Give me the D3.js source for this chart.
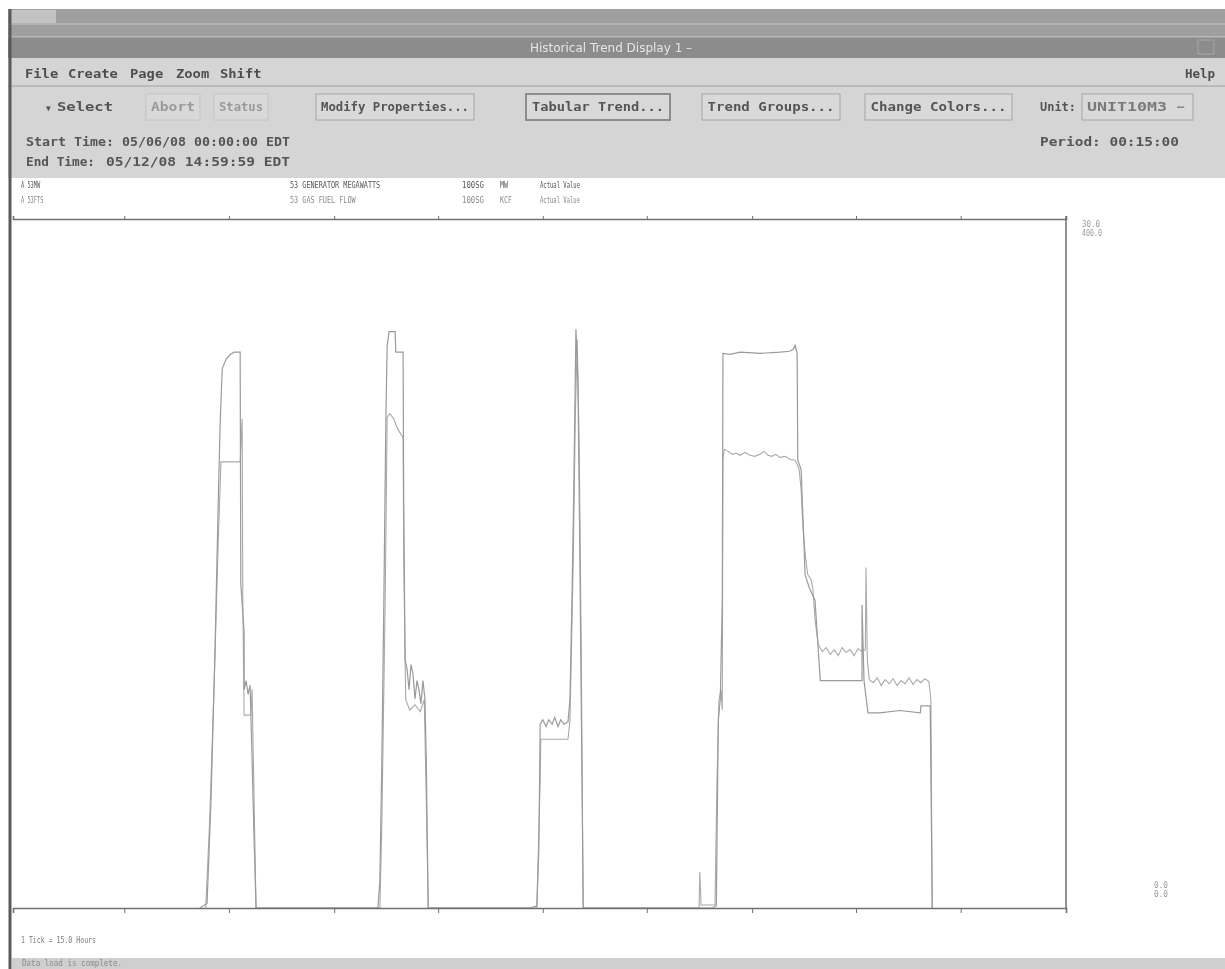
<!DOCTYPE html>
<html><head><meta charset="utf-8">
<script src="https://cdn.jsdelivr.net/npm/d3@7"></script>
<style>html,body{margin:0;padding:0;background:#fff;overflow:hidden} #c{will-change:transform}</style>
</head><body>
<svg id="c" width="1225" height="969"></svg>
<script>
// ---------------- DATA (hours since start time, engineering units) ----------------
const mwHours = [
  28.2, 29.3, 29.9, 30.5, 31.0, 31.3, 31.6, 32.2, 32.8, 33.4, 34.3, 34.4, 34.9, 34.9, 35.2, 35.5, 35.8, 36.1, 36.4, 36.7,
  55.1, 55.4, 55.7, 56.0, 56.3, 56.5, 56.8, 57.7, 57.8, 58.9, 59.0, 59.2, 59.5, 59.8, 60.1, 60.4, 60.7, 61.0, 61.3, 61.6, 61.9, 62.2, 62.4, 62.7,
  78.1, 79.1, 79.4, 79.6, 80.0, 80.5, 80.9, 81.4, 81.8, 82.3, 82.7, 83.2, 83.8, 84.1, 84.4, 84.7, 85.0, 85.3, 85.6, 85.8, 86.1,
  105.6, 106.2, 106.5, 106.8, 107.1, 107.2, 108.3, 109.8, 112.8, 115.8, 117.3, 117.8, 118.1, 118.4, 118.5, 119.0, 119.3, 119.6, 120.3, 121.1, 121.6, 121.9, 124.9, 128.2, 128.2, 128.5, 129.1, 130.9, 133.9, 137.0, 137.1, 138.5, 138.8
];
const mwValues = [
  0, 0.2, 4.7, 11.2, 17.8, 21.3, 23.5, 23.9, 24.1, 24.2, 24.2, 14.1, 12.0, 9.5, 9.9, 9.3, 9.7, 6.5, 3.0, 0,
  0, 1.2, 6.5, 13.4, 21.3, 24.5, 25.1, 25.1, 24.2, 24.2, 17.8, 10.8, 10.4, 9.5, 10.6, 10.2, 9.1, 9.9, 9.5, 8.9, 9.9, 9.1, 6.5, 0,
  0, 0.1, 2.5, 8.0, 8.2, 7.9, 8.2, 8.0, 8.3, 7.9, 8.2, 8.0, 8.1, 9.1, 13.4, 18.7, 25.2, 23.0, 15.2, 9.1, 0,
  0, 0.1, 8.2, 9.1, 13.4, 24.15, 24.11, 24.2, 24.15, 24.2, 24.24, 24.33, 24.5, 24.15, 19.5, 19.1, 16.9, 14.5, 13.9, 13.4, 11.2, 9.9, 9.9, 9.9, 13.2, 9.9, 8.5, 8.5, 8.6, 8.5, 8.8, 8.8, 0
];
const gasHours = [
  29.1, 29.7, 30.4, 31.0, 31.4, 34.3, 34.6, 34.7, 34.9, 35.9, 36.1, 36.4, 36.7,
  55.4, 55.7, 56.2, 56.5, 56.9, 57.5, 58.1, 58.9, 59.0, 59.3, 59.9, 60.7, 61.5, 62.1, 62.4, 62.7,
  79.1, 79.6, 79.7, 83.8, 84.1, 84.6, 84.9, 85.2, 85.5, 85.8, 86.1,
  103.6, 103.7, 103.9, 106.0, 106.3, 106.6, 106.9, 107.1, 107.2, 107.4, 108.0, 108.6, 109.2, 109.8, 110.5, 111.3, 112.0, 112.8,
  113.4, 114.0, 114.6, 115.2, 115.8, 116.6, 117.3, 118.1, 118.4, 118.7, 119.0, 119.3, 119.7, 120.0, 120.5, 120.8, 121.1, 121.6,
  122.2, 122.8, 123.4, 124.0, 124.6, 125.2, 125.8, 126.4, 127.0, 127.6, 128.2, 128.7, 128.8, 129.0, 129.3, 129.9, 130.5, 131.1,
  131.7, 132.3, 132.9, 133.5, 134.1, 134.7, 135.3, 135.9, 136.5, 137.1, 137.7, 138.3, 138.6, 138.8
];
const gasValues = [
  0, 51, 133, 214, 259, 259, 284, 179, 112, 112, 127, 63, 0,
  0, 51, 179, 285, 287, 284, 278, 273, 202, 121, 115, 118, 114, 121, 63, 0,
  0, 74, 98, 98, 109, 202, 284, 330, 266, 150, 0,
  0, 20.9, 1.7, 1.7, 74.4, 120.9, 126.7, 115.1, 260.5, 266.3, 265.1, 263.4, 264.0, 262.8, 264.5, 262.8, 262.2, 263.4,
  265.1, 262.8, 262.2, 263.4, 261.6, 262.2, 260.5, 259.9, 257.6, 254.7, 243.0, 219.8, 202.3, 193.6, 190.7, 184.9, 167.4, 152.9,
  148.8, 151.2, 147.1, 150.0, 146.5, 151.2, 148.3, 150.0, 146.5, 150.6, 148.8, 150.0, 197.7, 144.2, 132.6, 130.8, 133.7, 129.1,
  132.6, 130.2, 133.1, 129.1, 132.0, 130.2, 133.7, 129.7, 132.6, 130.8, 133.1, 131.4, 120.9, 0
];
const timeDomain = [0, 159];          // 05/06/08 00:00 .. 05/12/08 14:59:59
const mwDomain = [0, 30];
const gasDomain = [0, 400];
const tickHours = [16.8, 32.6, 48.5, 64.2, 80.0, 95.7, 111.6, 127.3, 143.1];
const topScaleLabels = ["30.0", "400.0"];
const bottomScaleLabels = ["0.0", "0.0"];
const legendTags = ["A 53MW", "A 53FTS"];
const legendDescs = ["53 GENERATOR MEGAWATTS", "53 GAS FUEL FLOW"];
const legendGroups = ["100SG", "100SG"];
const legendUnits = ["MW", "KCF"];
const legendModes = ["Actual Value", "Actual Value"];
const menuItems = ["File", "Create", "Page", "Zoom", "Shift"];

// ---------------- DRAW ----------------
const svg = d3.select("#c");
const MONO = "'DejaVu Sans Mono', 'Liberation Mono', monospace";

function txt(x, y, s, o = {}) {
  const t = svg.append("text").attr("x", x).attr("y", y).text(s)
    .attr("font-family", o.family || MONO)
    .attr("font-size", o.size || 12)
    .attr("font-weight", o.weight || "bold")
    .attr("fill", o.fill || "#555");
  if (o.len) t.attr("textLength", o.len).attr("lengthAdjust", "spacingAndGlyphs");
  if (o.anchor) t.attr("text-anchor", o.anchor);
  return t;
}

// window chrome
svg.append("rect").attr("x", 0).attr("y", 0).attr("width", 1225).attr("height", 969).attr("fill", "#ffffff");
svg.append("rect").attr("x", 8).attr("y", 9).attr("width", 1217).attr("height", 28).attr("fill", "#9f9f9f");
svg.append("rect").attr("x", 10).attr("y", 10).attr("width", 46).attr("height", 13).attr("fill", "#c3c3c3");
svg.append("rect").attr("x", 8).attr("y", 23).attr("width", 1217).attr("height", 2).attr("fill", "#b4b4b4");
svg.append("rect").attr("x", 8).attr("y", 36).attr("width", 1217).attr("height", 22).attr("fill", "#8c8c8c");
svg.append("rect").attr("x", 8).attr("y", 36).attr("width", 1217).attr("height", 1.5).attr("fill", "#b8b8b8");
txt(611, 52, "Historical Trend Display 1 \u2013", {family: "'DejaVu Sans', sans-serif", weight: "normal", size: 12, fill: "#e6e6e6", anchor: "middle"});
svg.append("rect").attr("x", 1198).attr("y", 40).attr("width", 16).attr("height", 14).attr("fill", "none").attr("stroke", "#a8a8a8");

// grey toolbar panel
svg.append("rect").attr("x", 8).attr("y", 58).attr("width", 1217).attr("height", 120).attr("fill", "#d5d5d5");
svg.append("line").attr("x1", 8).attr("x2", 1225).attr("y1", 86).attr("y2", 86).attr("stroke", "#b2b2b2").attr("stroke-width", 1.5);

// menu
const menuX = [25, 68, 130, 176, 220];
menuItems.forEach((m, i) => txt(menuX[i], 78, m, {size: 12.5, len: m.length * 8.3, fill: "#4e4e4e"}));
txt(1215, 78, "Help", {size: 12.5, anchor: "end", fill: "#4e4e4e"});

// toolbar buttons
function button(x, w, label, o = {}) {
  svg.append("rect").attr("x", x).attr("y", 94).attr("width", w).attr("height", 26)
    .attr("fill", "#d9d9d9").attr("stroke", o.stroke || "#a5a5a5").attr("stroke-width", o.sw || 1);
  txt(x + w / 2, 111, label, {size: 12, anchor: "middle", fill: o.fill || "#555", len: o.len});
}
txt(46, 111, "\u25BC", {size: 8, fill: "#555"});
txt(57, 111, "Select", {size: 12.5, fill: "#555", len: 56});
button(146, 54, "Abort", {fill: "#9a9a9a", stroke: "#c4c4c4", len: 44});
button(214, 54, "Status", {fill: "#9a9a9a", stroke: "#c4c4c4", len: 44});
button(316, 158, "Modify Properties...", {len: 148});
button(526, 144, "Tabular Trend...", {stroke: "#7a7a7a", sw: 1.6, len: 132});
button(702, 138, "Trend Groups...", {len: 127});
button(865, 147, "Change Colors...", {len: 136});
txt(1040, 111, "Unit:", {size: 12, len: 36, fill: "#555"});
svg.append("rect").attr("x", 1082).attr("y", 94).attr("width", 111).attr("height", 26)
  .attr("fill", "#d9d9d9").attr("stroke", "#a5a5a5");
txt(1087, 111, "UNIT10M3", {size: 12, len: 80, fill: "#7a7a7a"});
txt(1177, 111, "\u2013", {size: 12, fill: "#888"});

// times
txt(26, 146, "Start Time: 05/06/08 00:00:00 EDT", {size: 12.5, len: 264, fill: "#555"});
txt(26, 166, "End Time:", {size: 12.5, len: 69, fill: "#555"});
txt(106, 166, "05/12/08 14:59:59 EDT", {size: 12.5, len: 184, fill: "#555"});
txt(1040, 146, "Period: 00:15:00", {size: 12.5, len: 139, fill: "#555"});

// left panel border
svg.append("line").attr("x1", 10).attr("x2", 10).attr("y1", 9).attr("y2", 969).attr("stroke", "#5a5a5a").attr("stroke-width", 3);

// legend
const legY = [188, 203];
legendTags.forEach((s, i) => {
  const o = {family: MONO, size: 8, weight: "normal", fill: i === 0 ? "#555" : "#8a8a8a"};
  txt(21, legY[i], s, Object.assign({len: s.length * 3.2}, o));
  txt(290, legY[i], legendDescs[i], Object.assign({len: legendDescs[i].length * 4.1}, o));
  txt(462, legY[i], legendGroups[i], Object.assign({len: 22}, o));
  txt(500, legY[i], legendUnits[i], Object.assign({len: legendUnits[i].length * 4}, o));
  txt(540, legY[i], legendModes[i], Object.assign({len: 40}, o));
});

// ---------------- PLOT ----------------
const plot = {left: 12, right: 1066, top: 219, bottom: 908};
const x = d3.scaleLinear().domain(timeDomain).range([plot.left + 1, plot.right]);
const yMW = d3.scaleLinear().domain(mwDomain).range([plot.bottom, plot.top]);
const yGas = d3.scaleLinear().domain(gasDomain).range([plot.bottom, plot.top]);

// frame
svg.append("line").attr("x1", plot.right).attr("x2", plot.right).attr("y1", plot.top - 3).attr("y2", plot.bottom)
  .attr("stroke", "#777").attr("stroke-width", 1.6);

const mwData = mwHours.map((h, i) => ({h, v: mwValues[i]}));
const gasData = gasHours.map((h, i) => ({h, v: gasValues[i]}));

svg.append("path").datum(gasData)
  .attr("d", d3.line().x(d => x(d.h)).y(d => yGas(d.v)))
  .attr("fill", "none").attr("stroke", "#a9a9a9").attr("stroke-width", 1.1);
svg.append("path").datum(mwData)
  .attr("d", d3.line().x(d => x(d.h)).y(d => yMW(d.v)))
  .attr("fill", "none").attr("stroke", "#9a9a9a").attr("stroke-width", 1.2);

// axes (top and bottom time axes)
const topAxis = d3.axisTop(x).tickValues(tickHours).tickSize(3).tickFormat("");
const botAxis = d3.axisBottom(x).tickValues(tickHours).tickSize(5).tickFormat("");
const gTop = svg.append("g").attr("transform", `translate(0,${plot.top})`).call(topAxis);
const gBot = svg.append("g").attr("transform", `translate(0,${plot.bottom})`).call(botAxis);
[gTop, gBot].forEach(g => {
  g.select(".domain").attr("stroke", "#707070").attr("stroke-width", 1.6);
  g.selectAll(".tick line").attr("stroke", "#707070");
});

// scale labels
const lab = {family: MONO, size: 8, weight: "normal", fill: "#9a9a9a"};
txt(1082, 227, topScaleLabels[0], Object.assign({len: 18}, lab));
txt(1082, 236, topScaleLabels[1], Object.assign({len: 20}, lab));
txt(1154, 888, bottomScaleLabels[0], Object.assign({len: 14}, lab));
txt(1154, 897, bottomScaleLabels[1], Object.assign({len: 14}, lab));

txt(21, 943, "1 Tick = 15.0 Hours", {family: MONO, size: 8, weight: "normal", fill: "#7a7a7a", len: 75});

// bottom status bar
svg.append("rect").attr("x", 12).attr("y", 958).attr("width", 1213).attr("height", 11).attr("fill", "#cfcfcf");
txt(22, 966, "Data load is complete.", {family: MONO, size: 8, weight: "normal", fill: "#8a8a8a", len: 100});
</script>
</body></html>
